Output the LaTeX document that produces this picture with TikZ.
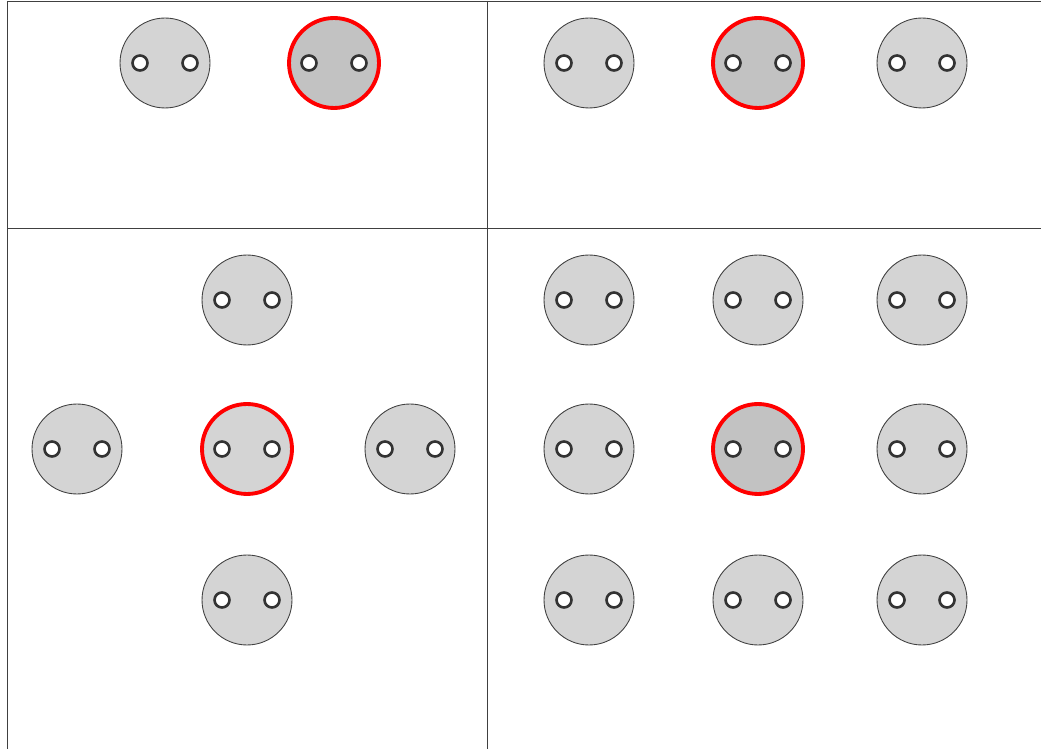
\documentclass[tikz,border=0pt]{standalone}
\usepackage{tikz}
\usetikzlibrary{calc,positioning}

\begin{document}
\begin{tikzpicture}[
    x=0.02cm, y=-0.02cm,
    plug/.style={circle, draw=black!75, line width=0.5pt, fill=black!17, minimum size=1.8cm, inner sep=0pt},
    selected/.style={plug, draw=red, line width=2.2pt},
    darker/.style={fill=black!24},
    hole/.style={circle, draw=black!80, line width=1.5pt, fill=white, minimum size=0.3cm, inner sep=0pt},
    frame/.style={draw=black!75, line width=0.5pt}
]
\useasboundingbox (0,0) rectangle (1041,749);

% panel frame
\draw[frame] (7,749) -- (7,1) -- (1041,1);
\draw[frame] (487,1) -- (487,749);
\draw[frame] (7,228) -- (1041,228);

% top left panel
\node[plug] (tl_a) at (165,63) {};
\node[selected, darker] (tl_sel) at (334,63) {};

% top right panel
\node[plug] (tr_a) at (589,63) {};
\node[selected, darker] (tr_sel) at (758,63) {};
\node[plug] (tr_b) at (922,63) {};

% bottom left panel
\node[plug] (bl_n) at (247,300) {};
\node[plug] (bl_w) at (77,449) {};
\node[selected] (bl_sel) at (247,449) {};
\node[plug] (bl_e) at (410,449) {};
\node[plug] (bl_s) at (247,600) {};

% bottom right panel
\node[plug] (br_nw) at (589,300) {};
\node[plug] (br_n) at (758,300) {};
\node[plug] (br_ne) at (922,300) {};
\node[plug] (br_w) at (589,449) {};
\node[selected, darker] (br_sel) at (758,449) {};
\node[plug] (br_e) at (922,449) {};
\node[plug] (br_sw) at (589,600) {};
\node[plug] (br_s) at (758,600) {};
\node[plug] (br_se) at (922,600) {};

% two holes in every plug
\foreach \p in {tl_a,tl_sel,tr_a,tr_sel,tr_b,bl_n,bl_w,bl_sel,bl_e,bl_s,
                br_nw,br_n,br_ne,br_w,br_sel,br_e,br_sw,br_s,br_se} {
    \node[hole] (\p_l) at ($(\p)+(-25,0)$) {};
    \node[hole] (\p_r) at ($(\p)+(25,0)$) {};
}

\end{tikzpicture}
\end{document}
